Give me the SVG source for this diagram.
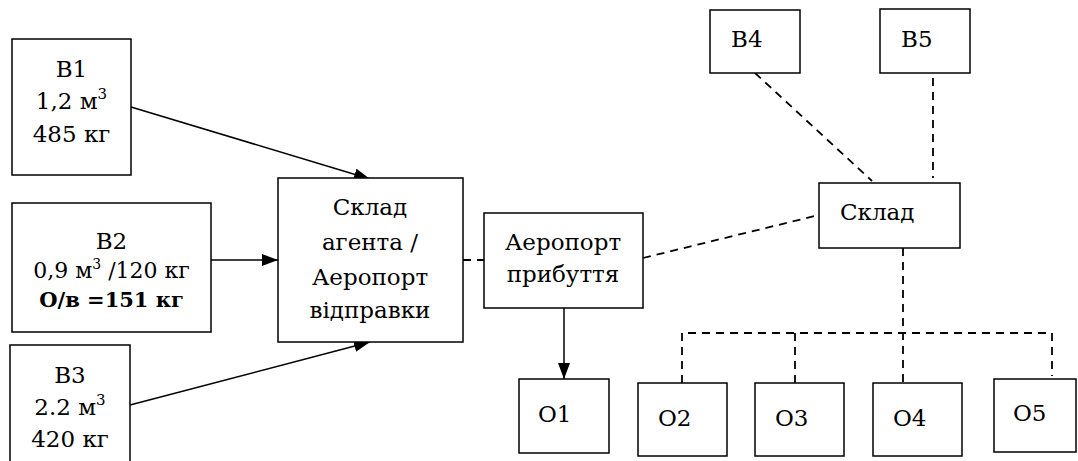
<svg xmlns="http://www.w3.org/2000/svg" width="1078" height="461" viewBox="0 0 1078 461">
<defs>
<style>
.box{fill:#fff;stroke:#000;stroke-width:1.5}
.c{text-anchor:middle}
.b{font-weight:bold}
.ln{stroke:#000;stroke-width:1.5;fill:none}
.dash{stroke:#000;stroke-width:1.8;fill:none;stroke-dasharray:8 6}
</style>
<marker id="arr" viewBox="0 0 16 12" refX="16" refY="6" markerWidth="16" markerHeight="12" markerUnits="userSpaceOnUse" orient="auto">
<path d="M0,0 L16,6 L0,12 Z" fill="#000"/>
</marker>
</defs>
<rect width="1078" height="461" fill="#fff"/>
<g id="connectors">
<line class="ln" x1="131" y1="107" x2="370" y2="179" marker-end="url(#arr)"/>
<line class="ln" x1="211" y1="260" x2="278" y2="260" marker-end="url(#arr)"/>
<line class="ln" x1="130" y1="405" x2="370" y2="342" marker-end="url(#arr)"/>
<line class="ln" x1="564" y1="308" x2="564" y2="379" marker-end="url(#arr)"/>
<line class="dash" x1="463" y1="260" x2="484" y2="260"/>
<line class="dash" x1="643" y1="258" x2="819" y2="215"/>
<line class="dash" x1="755" y1="73" x2="872" y2="181"/>
<line class="dash" x1="933" y1="78" x2="933" y2="178"/>
<line class="dash" x1="903" y1="248" x2="903" y2="383"/>
<polyline class="dash" points="682,383 682,333 1052,333 1052,376"/>
<line class="dash" x1="795" y1="333" x2="795" y2="383"/>
</g>
<g font-family="DejaVu Serif, serif" font-size="23" fill="#000">
<g id="B1">
<rect class="box" x="12" y="39" width="119" height="136"/>
<text class="c" x="71.5" y="77">B1</text>
<text class="c" x="71.5" y="109">1,2 м<tspan font-size="15" dy="-10">3</tspan></text>
<text class="c" x="71.5" y="142">485 кг</text>
</g>
<g id="B2">
<rect class="box" x="12" y="203" width="199" height="129"/>
<text class="c" x="111.5" y="249">B2</text>
<text class="c" x="111.5" y="278" font-size="22">0,9 м<tspan font-size="14" dy="-9">3</tspan><tspan dy="9"> /120 кг</tspan></text>
<text class="c b" x="111.5" y="307" font-size="21">О/в =151 кг</text>
</g>
<g id="B3">
<rect class="box" x="10" y="345" width="120" height="125"/>
<text class="c" x="70" y="383">B3</text>
<text class="c" x="70" y="415">2.2 м<tspan font-size="15" dy="-10">3</tspan></text>
<text class="c" x="70" y="447">420 кг</text>
</g>
<g id="sklad-agenta">
<rect class="box" x="278" y="178" width="185" height="164"/>
<text class="c" x="370" y="215">Склад</text>
<text class="c" x="370" y="250">агента /</text>
<text class="c" x="370" y="285">Аеропорт</text>
<text class="c" x="370" y="318">відправки</text>
</g>
<g id="aeroport-prybuttia">
<rect class="box" x="484" y="213" width="159" height="95"/>
<text class="c" x="563" y="250">Аеропорт</text>
<text class="c" x="563" y="282">прибуття</text>
</g>
<g id="B4">
<rect class="box" x="710" y="10" width="90" height="63"/>
<text x="731" y="47">B4</text>
</g>
<g id="B5">
<rect class="box" x="880" y="9" width="90" height="64"/>
<text x="901" y="47">B5</text>
</g>
<g id="sklad">
<rect class="box" x="819" y="183" width="141" height="65"/>
<text x="840" y="220">Склад</text>
</g>
<g id="O1">
<rect class="box" x="519" y="379" width="90" height="74"/>
<text x="538" y="422">O1</text>
</g>
<g id="O2">
<rect class="box" x="638" y="383" width="89" height="73"/>
<text x="658" y="426">O2</text>
</g>
<g id="O3">
<rect class="box" x="755" y="383" width="89" height="73"/>
<text x="775" y="426">O3</text>
</g>
<g id="O4">
<rect class="box" x="873" y="383" width="89" height="73"/>
<text x="893" y="426">O4</text>
</g>
<g id="O5">
<rect class="box" x="994" y="379" width="82" height="73"/>
<text x="1013" y="421">O5</text>
</g>
</g>
</svg>
